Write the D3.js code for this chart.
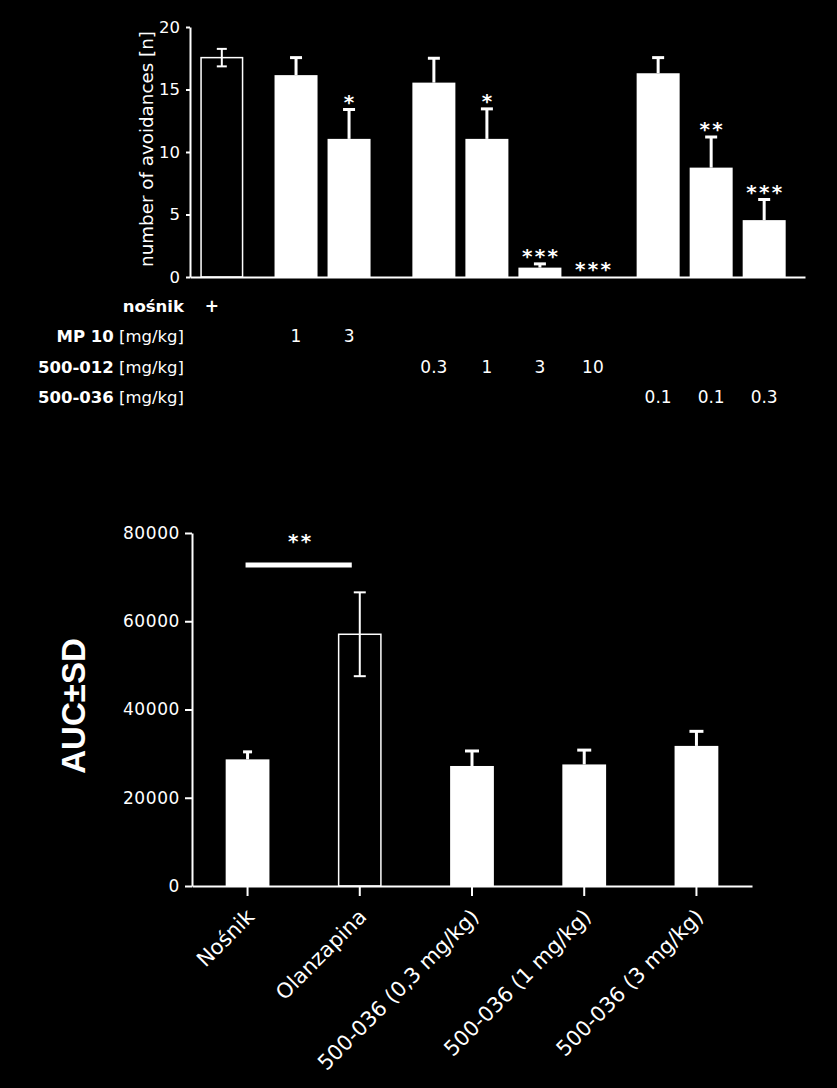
<!DOCTYPE html>
<html>
<head>
<meta charset="utf-8">
<script src="https://cdn.jsdelivr.net/npm/d3@7"></script>
<style>
  body { margin: 0; background: #000; }
  svg { display: block; background: #000; }
  text { fill: #fff; font-family: "DejaVu Sans", sans-serif; }
</style>
</head>
<body>
<svg id="chart" width="837" height="1088"></svg>
<script>
// Top panel: conditioned avoidance, mean + SEM
var avoidDoses = ["+", "1", "3", "0.3", "1", "3", "10", "0.1", "0.1", "0.3"];
var avoidGroup = [0, 1, 1, 2, 2, 2, 2, 3, 3, 3];
var avoidMean = [17.55, 16.15, 11.05, 15.55, 11.05, 0.75, 0, 16.3, 8.75, 4.55];
var avoidErr = [0.7, 1.4, 2.35, 1.95, 2.4, 0.3, 0, 1.25, 2.45, 1.65];
var avoidStars = ["", "", "*", "", "*", "***", "***", "", "**", "***"];
var avoidTicks = [0, 5, 10, 15, 20];
var rowNames = ["nośnik", "MP 10", "500-012", "500-036"];
var rowUnits = ["", "[mg/kg]", "[mg/kg]", "[mg/kg]"];

// Bottom panel: AUC +- SD
var aucGroups = ["Nośnik", "Olanzapina", "500-036 (0,3 mg/kg)", "500-036 (1 mg/kg)", "500-036 (3 mg/kg)"];
var aucMean = [28700, 57050, 27200, 27550, 31750];
var aucSd = [1700, 9500, 3400, 3250, 3300];
var aucTicks = [0, 20000, 40000, 60000, 80000];

var svg = d3.select("#chart");

function styleAxis(g, size) {
  g.attr("font-family", null).attr("font-size", null);
  g.selectAll("path, line").attr("stroke", "#fff").attr("stroke-width", 2);
  g.selectAll("text").attr("fill", "#fff").style("font-size", size + "px");
}

function errorBar(g, cx, yMid, yTop, yBot, cap, width) {
  g.append("line")
    .attr("x1", cx).attr("x2", cx).attr("y1", yTop).attr("y2", yBot)
    .attr("stroke", "#fff").attr("stroke-width", width);
  g.append("line")
    .attr("x1", cx - cap / 2).attr("x2", cx + cap / 2).attr("y1", yTop).attr("y2", yTop)
    .attr("stroke", "#fff").attr("stroke-width", width);
  if (yBot > yMid) {
    g.append("line")
      .attr("x1", cx - cap / 2).attr("x2", cx + cap / 2).attr("y1", yBot).attr("y2", yBot)
      .attr("stroke", "#fff").attr("stroke-width", width);
  }
}

function stars(sel) {
  sel.attr("text-anchor", "middle")
    .style("font-size", "20px")
    .style("font-weight", "bold")
    .style("letter-spacing", "2.3px");
}

// ---------- top panel ----------
(function() {
  // extra space between treatment groups, in bar steps
  var groupShift = [0, 0.4, 1.0, 1.23],
      barWidth = 43,
      openBar = 0;

  var x = d3.scaleLinear().domain([-0.6, 11]).range([190, 805]),
      y = d3.scaleLinear().domain([0, 20]).range([277, 27]);

  function slot(i) { return i + groupShift[avoidGroup[i]]; }

  var g = svg.append("g");

  avoidMean.forEach(function(v, i) {
    var cx = x(slot(i)), open = i === openBar;
    if (v > 0) {
      g.append("rect")
        .attr("x", cx - barWidth / 2 + (open ? 0.75 : 0))
        .attr("y", y(v))
        .attr("width", barWidth - (open ? 1.5 : 0))
        .attr("height", y(0) - y(v))
        .attr("fill", open ? "#000" : "#fff")
        .attr("stroke", open ? "#fff" : "none")
        .attr("stroke-width", 1.5);
    }
    if (avoidErr[i] > 0) {
      errorBar(g, cx, y(v), y(v + avoidErr[i]), open ? y(v - avoidErr[i]) : y(v),
        open ? 10 : 12, open ? 2 : 3);
    }
    if (avoidStars[i]) {
      g.append("text")
        .attr("x", cx + 1.2)
        .attr("y", y(v + avoidErr[i]) - 1)
        .call(stars)
        .text(avoidStars[i]);
    }
  });

  var yAxis = svg.append("g")
    .attr("transform", "translate(190,0)")
    .call(d3.axisLeft(y).tickValues(avoidTicks).tickSize(4).tickPadding(6).tickSizeOuter(0));
  styleAxis(yAxis, 16.5);

  var xAxis = svg.append("g")
    .attr("transform", "translate(0," + y(0) + ")")
    .call(d3.axisBottom(x).tickValues([]).tickSizeOuter(0));
  styleAxis(xAxis, 16);

  svg.append("text")
    .attr("transform", "translate(146,149) rotate(-90)")
    .attr("text-anchor", "middle")
    .attr("dominant-baseline", "central")
    .style("font-size", "18.3px")
    .text("number of avoidances [n]");

  // dose table under the bars
  var rowY = d3.scalePoint().domain(d3.range(rowNames.length)).range([306, 397]);

  rowNames.forEach(function(name, r) {
    var t = svg.append("text")
      .attr("x", 184)
      .attr("y", rowY(r))
      .attr("text-anchor", "end")
      .attr("dominant-baseline", "central")
      .style("font-size", "16.5px");
    t.append("tspan").style("font-weight", "bold").text(name);
    if (rowUnits[r]) t.append("tspan").text(" " + rowUnits[r]);
  });

  avoidDoses.forEach(function(d, i) {
    svg.append("text")
      .attr("x", x(slot(i)) + (i === 0 ? -10 : 0))
      .attr("y", rowY(avoidGroup[i]))
      .attr("text-anchor", "middle")
      .attr("dominant-baseline", "central")
      .style("font-size", "17px")
      .style("font-weight", i === 0 ? "bold" : "normal")
      .text(d);
  });
})();

// ---------- bottom panel ----------
(function() {
  var openBar = 1;

  var x = d3.scaleBand().domain(aucGroups).range([192, 752]).paddingInner(0.61).paddingOuter(0.3),
      y = d3.scaleLinear().domain([0, 80000]).range([886, 533]);

  var g = svg.append("g");

  aucGroups.forEach(function(name, i) {
    var v = aucMean[i], open = i === openBar,
        x0 = x(name), cx = x0 + x.bandwidth() / 2;
    g.append("rect")
      .attr("x", x0 + (open ? 0.75 : 0))
      .attr("y", y(v))
      .attr("width", x.bandwidth() - (open ? 1.5 : 0))
      .attr("height", y(0) - y(v))
      .attr("fill", open ? "#000" : "#fff")
      .attr("stroke", open ? "#fff" : "none")
      .attr("stroke-width", 1.5);
    errorBar(g, cx, y(v), y(v + aucSd[i]), open ? y(v - aucSd[i]) : y(v),
      i === 0 ? 9 : (open ? 12 : 14), open ? 2 : 3);
  });

  var yAxis = svg.append("g")
    .attr("transform", "translate(192,0)")
    .call(d3.axisLeft(y).tickValues(aucTicks).tickSize(7).tickPadding(5).tickSizeOuter(0)
      .tickFormat(d3.format("d")));
  styleAxis(yAxis, 17);
  yAxis.selectAll("text").style("letter-spacing", "0.6px");

  var xAxis = svg.append("g")
    .attr("transform", "translate(0," + y(0) + ")")
    .call(d3.axisBottom(x).tickSize(10).tickSizeOuter(0));
  styleAxis(xAxis, 21);
  xAxis.selectAll("text")
    .attr("x", 8).attr("y", 32).attr("dy", 0)
    .attr("text-anchor", "end")
    .attr("transform", "rotate(-45,8,32)");

  // significance bracket Nośnik vs Olanzapina
  var c0 = x(aucGroups[0]) + x.bandwidth() / 2,
      c1 = x(aucGroups[1]) + x.bandwidth() / 2;
  svg.append("line")
    .attr("x1", c0 - 2).attr("x2", c1 - 8)
    .attr("y1", 565).attr("y2", 565)
    .attr("stroke", "#fff").attr("stroke-width", 5);
  svg.append("text")
    .attr("x", (c0 + c1) / 2 - 3)
    .attr("y", 548)
    .call(stars)
    .text("**");

  svg.append("text")
    .attr("transform", "translate(73,706) rotate(-90)")
    .attr("text-anchor", "middle")
    .attr("dominant-baseline", "central")
    .style("font-family", "'Liberation Sans', Arial, sans-serif")
    .style("font-weight", "bold")
    .style("font-size", "33px")
    .text("AUC±SD");
})();
</script>
</body>
</html>
